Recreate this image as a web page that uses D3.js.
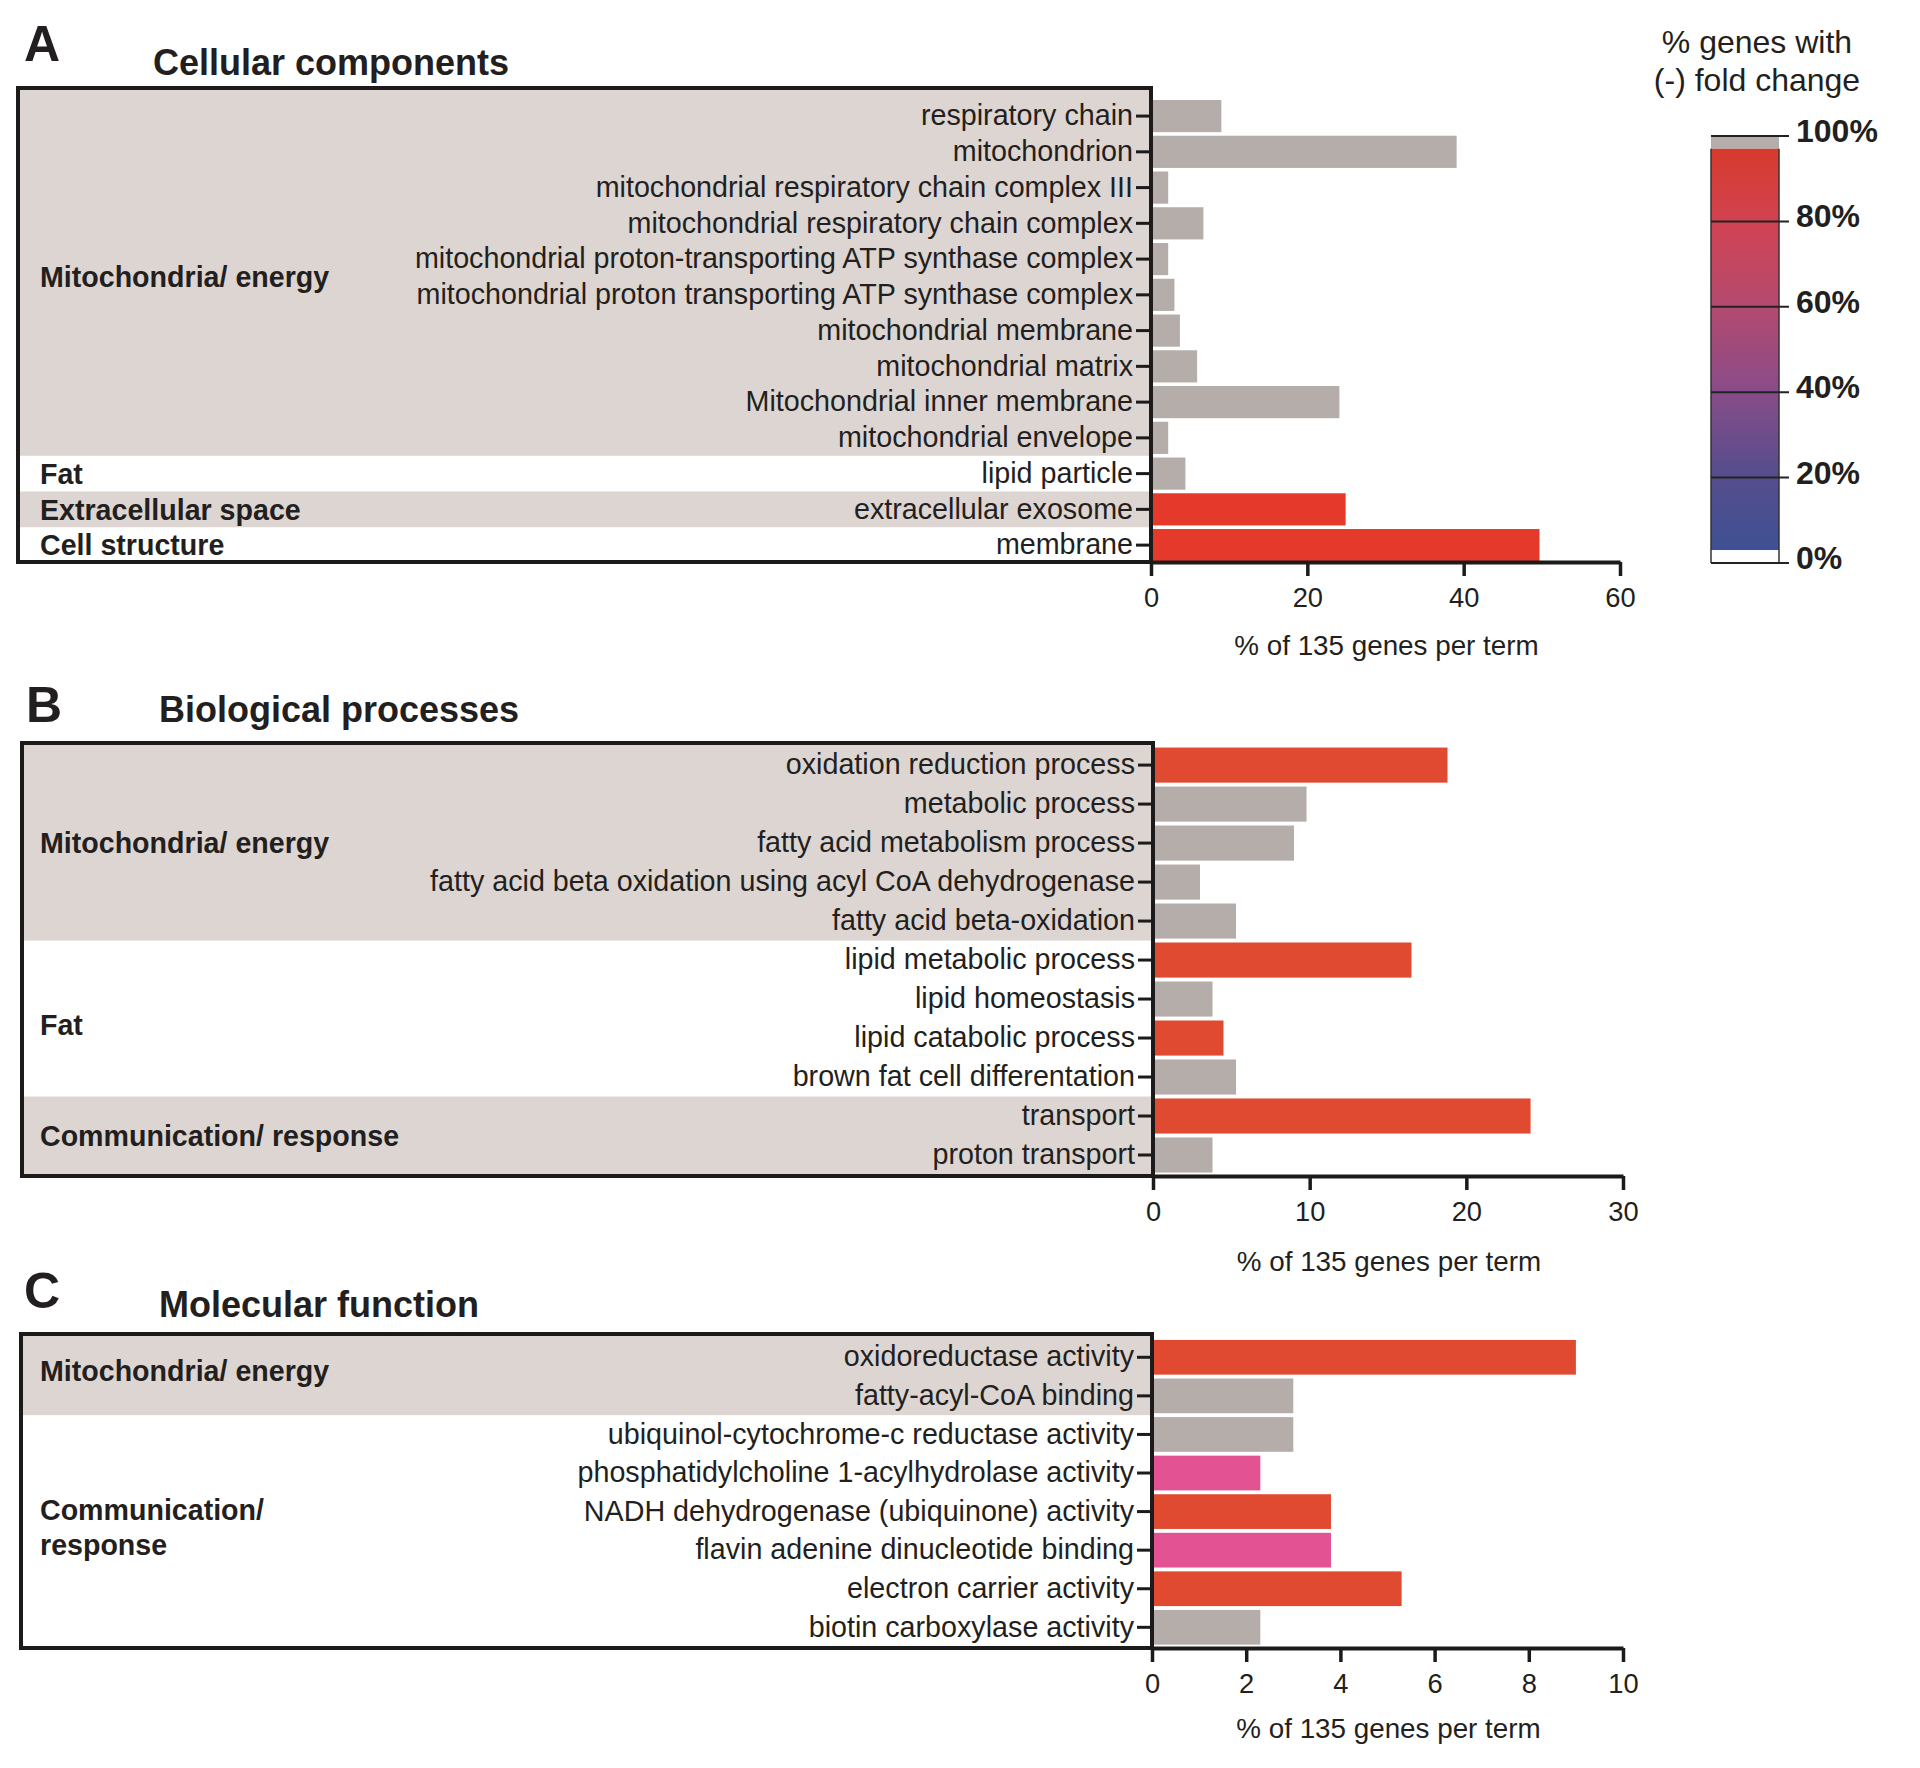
<!DOCTYPE html>
<html><head><meta charset="utf-8">
<script src="https://cdn.jsdelivr.net/npm/d3@7"></script>
<style>
body{margin:0;background:#fff}
svg{display:block}
text{font-family:"Liberation Sans",Arial,Helvetica,sans-serif;fill:#231f20}
</style>
</head><body>
<svg id="chart" width="1920" height="1768"></svg>
<script>
// ---------- DATA ----------
// A: Cellular components
const ccTerms = ["respiratory chain","mitochondrion","mitochondrial respiratory chain complex III","mitochondrial respiratory chain complex","mitochondrial proton-transporting ATP synthase complex","mitochondrial proton transporting ATP synthase complex","mitochondrial membrane","mitochondrial matrix","Mitochondrial inner membrane","mitochondrial envelope","lipid particle","extracellular exosome","membrane"];
const ccValues = [9.0, 39.1, 2.2, 6.7, 2.2, 3.0, 3.7, 5.9, 24.1, 2.2, 4.4, 24.9, 49.7];
const ccClass  = ["grey","grey","grey","grey","grey","grey","grey","grey","grey","grey","grey","red","red"];
const ccGroupNames = [["Mitochondria/ energy"],["Fat"],["Extracellular space"],["Cell structure"]];
const ccGroupSizes = [10,1,1,1];
const ccTicks = [0,20,40,60];

// B: Biological processes
const bpTerms = ["oxidation reduction process","metabolic process","fatty acid metabolism process","fatty acid beta oxidation using acyl CoA dehydrogenase","fatty acid beta-oxidation","lipid metabolic process","lipid homeostasis","lipid catabolic process","brown fat cell differentation","transport","proton transport"];
const bpValues = [18.8, 9.8, 9.0, 3.0, 5.3, 16.5, 3.8, 4.5, 5.3, 24.1, 3.8];
const bpClass  = ["red","grey","grey","grey","grey","red","grey","red","grey","red","grey"];
const bpGroupNames = [["Mitochondria/ energy"],["Fat"],["Communication/ response"]];
const bpGroupSizes = [5,4,2];
const bpTicks = [0,10,20,30];

// C: Molecular function
const mfTerms = ["oxidoreductase activity","fatty-acyl-CoA binding","ubiquinol-cytochrome-c reductase activity","phosphatidylcholine 1-acylhydrolase activity","NADH dehydrogenase (ubiquinone) activity","flavin adenine dinucleotide binding","electron carrier activity","biotin carboxylase activity"];
const mfValues = [9.0, 3.0, 3.0, 2.3, 3.8, 3.8, 5.3, 2.3];
const mfClass  = ["red","grey","grey","pink","red","pink","red","grey"];
const mfGroupNames = [["Mitochondria/ energy"],["Communication/","response"]];
const mfGroupSizes = [2,6];
const mfTicks = [0,2,4,6,8,10];

// Legend
const legendTicks = [0,20,40,60,80,100];
const legendTitle = ["% genes with","(-) fold change"];
const axisTitle = "% of 135 genes per term";

// ---------- DRAW ----------
const svg = d3.select("#chart");
const SHADE = "#dcd5d1";
const INK = "#1c1a1a";
const FONT = "'Liberation Sans',Arial,Helvetica,sans-serif";

function drawPanel(cfg){
  const g = svg.append("g");
  const x = d3.scaleLinear().domain([0, d3.max(cfg.ticks)]).range([cfg.x0, cfg.x1]);
  const y = d3.scaleBand().domain(cfg.terms).range([cfg.r0, cfg.r1]).paddingInner(0.1).paddingOuter(0.05);
  const step = y.step(), bw = y.bandwidth(), half = (step - bw)/2;

  // group shading + group labels
  let start = 0;
  cfg.groupSizes.forEach((n, gi) => {
    const first = cfg.terms[start], last = cfg.terms[start+n-1];
    const top = gi === 0 ? cfg.boxTop : y(first) - half;
    const bottom = gi === cfg.groupSizes.length-1 ? cfg.axisY : y(last) + bw + half;
    if (gi % 2 === 0) {
      g.append("rect").attr("x", cfg.boxLeft).attr("y", top)
        .attr("width", cfg.x0 - cfg.boxLeft).attr("height", bottom - top).attr("fill", SHADE);
    }
    const cy = (y(first) + y(last) + bw)/2 + (cfg.groupNudge ? cfg.groupNudge[gi] : 0);
    const lines = cfg.groupNames[gi];
    const lh = 35;
    lines.forEach((ln, li) => {
      g.append("text").attr("x", 40)
        .attr("y", cy + (li - (lines.length-1)/2)*lh)
        .attr("dy", "0.36em")
        .attr("font-size", 28.6).attr("font-weight", "bold").attr("fill","#111").text(ln);
    });
    start += n;
  });

  // bars
  g.selectAll("rect.bar").data(cfg.terms.map((t,i)=>({t, v:cfg.values[i], c:cfg.cls[i]})))
    .join("rect").attr("class","bar")
    .attr("x", x(0)).attr("y", d => y(d.t))
    .attr("width", d => x(d.v) - x(0)).attr("height", bw)
    .attr("fill", d => cfg.colors[d.c]);

  // box
  g.append("rect").attr("x", cfg.boxLeft).attr("y", cfg.boxTop)
    .attr("width", cfg.x0 - cfg.boxLeft).attr("height", cfg.axisY - cfg.boxTop)
    .attr("fill","none").attr("stroke", INK).attr("stroke-width", 4);

  // y axis (labels + ticks)
  const ya = g.append("g").attr("transform", `translate(${cfg.x0 - 2},0)`)
    .call(d3.axisLeft(y).tickSize(13).tickPadding(3));
  ya.select(".domain").remove();
  ya.selectAll(".tick line").attr("stroke", INK).attr("stroke-width", 3);
  ya.selectAll(".tick text").attr("font-size", 28.7).attr("fill","#231f20").style("font-family", FONT);

  // x axis
  const xa = g.append("g").attr("transform", `translate(0,${cfg.axisY})`)
    .call(d3.axisBottom(x).tickValues(cfg.ticks).tickSize(14).tickSizeOuter(0).tickPadding(12).tickFormat(d3.format("d")));
  xa.select(".domain").attr("stroke", INK).attr("stroke-width", 4);
  xa.selectAll(".tick line").attr("stroke", INK).attr("stroke-width", 3.5);
  xa.selectAll(".tick text").attr("font-size", 27.3).attr("fill","#231f20").style("font-family", FONT);

  g.append("text").attr("x", (cfg.x0 + cfg.x1)/2 + 1).attr("y", cfg.axisY + cfg.titleOff)
    .attr("text-anchor","middle").attr("font-size", 27.8).text(axisTitle);

  // panel letter + title
  g.append("text").attr("x", cfg.letterX).attr("y", cfg.letterY)
    .attr("font-size", 50).attr("font-weight","bold").attr("fill","#111").text(cfg.letter);
  g.append("text").attr("x", cfg.titleX).attr("y", cfg.titleY)
    .attr("font-size", 36).attr("font-weight","bold").attr("fill","#111").text(cfg.title);
}

drawPanel({terms: ccTerms, values: ccValues, cls: ccClass, groupNames: ccGroupNames, groupSizes: ccGroupSizes, ticks: ccTicks,
  colors: {grey:"#b5ada9", red:"#e53a2b", pink:"#e35293"},
  boxLeft: 18, boxTop: 88, axisY: 562, x0: 1151, x1: 1620, r0: 98.2, r1: 563,
  titleOff: 93, letter: "A", letterX: 24, letterY: 61, title: "Cellular components", titleX: 153, titleY: 75});

drawPanel({terms: bpTerms, values: bpValues, cls: bpClass, groupNames: bpGroupNames, groupSizes: bpGroupSizes, ticks: bpTicks,
  colors: {grey:"#b5ada9", red:"#df4a31", pink:"#e35293"}, groupNudge: [0, 6, 0],
  boxLeft: 22, boxTop: 743, axisY: 1176, x0: 1153, x1: 1623, r0: 745.6, r1: 1174.5,
  titleOff: 95, letter: "B", letterX: 26, letterY: 722, title: "Biological processes", titleX: 159, titleY: 722});

drawPanel({terms: mfTerms, values: mfValues, cls: mfClass, groupNames: mfGroupNames, groupSizes: mfGroupSizes, ticks: mfTicks,
  colors: {grey:"#b5ada9", red:"#df4a31", pink:"#e35293"}, groupNudge: [-6, -4],
  boxLeft: 21, boxTop: 1334, axisY: 1648, x0: 1152, x1: 1623, r0: 1338, r1: 1646.6,
  titleOff: 90, letter: "C", letterX: 24, letterY: 1308, title: "Molecular function", titleX: 159, titleY: 1317});

// ---------- LEGEND ----------
const lg = svg.append("g");
const ly = d3.scaleLinear().domain([0,100]).range([563,136]);
const lx0 = 1711, lx1 = 1779;
const defs = svg.append("defs");
const grad = defs.append("linearGradient").attr("id","lgGrad").attr("x1",0).attr("x2",0).attr("y1",1).attr("y2",0);
[[0,"#3e5194"],[0.2,"#584d8d"],[0.4,"#8a4c89"],[0.6,"#b24a70"],[0.8,"#cf4355"],[1,"#d83b2c"]]
  .forEach(([o,c]) => grad.append("stop").attr("offset", o).attr("stop-color", c));
lg.append("rect").attr("x", lx0).attr("y", ly(100)).attr("width", lx1-lx0).attr("height", ly(97)-ly(100)).attr("fill","#b5ada9");
lg.append("rect").attr("x", lx0).attr("y", ly(97)).attr("width", lx1-lx0).attr("height", ly(3)-ly(97)).attr("fill","url(#lgGrad)");
lg.append("rect").attr("x", lx0).attr("y", ly(3)).attr("width", lx1-lx0).attr("height", ly(0)-ly(3)).attr("fill","#fff");
lg.append("line").attr("x1", lx0).attr("x2", lx0).attr("y1", ly(97)).attr("y2", ly(0)).attr("stroke","#333").attr("stroke-width",1.5);
lg.append("line").attr("x1", lx1).attr("x2", lx1).attr("y1", ly(97)).attr("y2", ly(0)).attr("stroke","#333").attr("stroke-width",1.5);
lg.selectAll("line.lt").data(legendTicks).join("line").attr("class","lt")
  .attr("x1", lx0).attr("x2", lx1 + 10).attr("y1", d => ly(d)).attr("y2", d => ly(d))
  .attr("stroke","#222").attr("stroke-width", 2);
lg.selectAll("text.ll").data(legendTicks).join("text").attr("class","ll")
  .attr("x", 1796).attr("y", d => ly(d) + 6)
  .attr("font-size", 32).attr("font-weight","bold").attr("fill","#111").text(d => d + "%");
legendTitle.forEach((t,i) => lg.append("text").attr("x", 1757).attr("y", 53 + i*38)
  .attr("text-anchor","middle").attr("font-size", 32).text(t));
</script>
</body></html>
